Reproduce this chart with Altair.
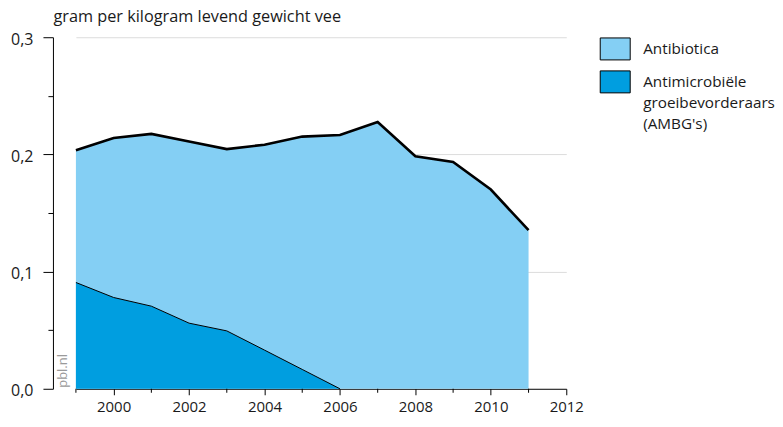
import altair as alt
import pandas as pd

# ---- data ----
jaren = [1999, 2000, 2001, 2002, 2003, 2004, 2005, 2006, 2007, 2008, 2009, 2010, 2011]
totaal = [0.2035, 0.214, 0.2175, 0.211, 0.2045, 0.2083, 0.2152, 0.2165, 0.2276,
          0.1984, 0.1935, 0.170, 0.1353]
ambg = [0.0907, 0.0779, 0.0705, 0.056, 0.0494, 0.033, 0.0165, 0.0, 0.0,
        0.0, 0.0, 0.0, 0.0]
legend_labels = ["Antibiotica", "Antimicrobiële\ngroeibevorderaars\n(AMBG's)"]
legend_colors = ["#84CFF4", "#009EE0"]
x_major = [2000, 2002, 2004, 2006, 2008, 2010, 2012]
x_minor = [1999, 2001, 2003, 2005, 2007, 2009, 2011]
y_ticks = [0.0, 0.05, 0.1, 0.15, 0.2, 0.25, 0.3]
y_title = "gram per kilogram levend gewicht vee"

FONT = "Open Sans"
TXT = "#1a1a1a"

df = pd.DataFrame({"jaar": jaren, "totaal": totaal, "ambg": ambg})
df_ambg_line = df[df["jaar"] <= 2006]

x_enc = alt.X(
    "jaar:Q",
    scale=alt.Scale(domain=[1999, 2012], nice=False, zero=False),
    axis=alt.Axis(
        values=x_major,
        format="d",
        title=None,
        grid=False,
        domainColor="#000",
        tickColor="#000",
        tickSize=6,
        labelFontSize=15,
        labelFont=FONT,
        labelColor=TXT,
        labelPadding=5,
        labelFlush=False,
        labelOverlap=False,
    ),
)

y_axis = alt.Axis(
    values=y_ticks,
    labelExpr="round(datum.value*100) % 10 == 0 ? replace(format(datum.value, '.1f'), '.', ',') : ''",
    title=y_title,
    titleAngle=0,
    titleAlign="left",
    titleBaseline="alphabetic",
    titleX=0,
    titleY=-16,
    titleFont=FONT,
    titleFontSize=16.3,
    titleFontWeight="normal",
    titleColor=TXT,
    offset=23,
    domainColor="#000",
    tickColor="#000",
    tickSize={"condition": {"test": "round(datum.value*100) % 10 == 0", "value": 10}, "value": 5},
    grid=True,
    gridColor="#dcdcdc",
    gridOpacity={"condition": {"test": "datum.value > 0.01 && round(datum.value*100) % 10 == 0", "value": 1}, "value": 0},
    labelFontSize=16,
    labelFont=FONT,
    labelColor=TXT,
    labelPadding=10,
    labelOffset=2,
    labelOverlap=False,
)
y_scale = alt.Scale(domain=[0, 0.3], nice=False)

base = alt.Chart(df)

licht = base.mark_area(color=legend_colors[0]).encode(
    x=x_enc, y=alt.Y("totaal:Q", scale=y_scale, axis=y_axis)
)
donker = base.mark_area(color=legend_colors[1]).encode(
    x="jaar:Q", y="ambg:Q"
)
lijn_ambg = alt.Chart(df_ambg_line).mark_line(color="#000", strokeWidth=1).encode(
    x="jaar:Q", y="ambg:Q"
)
lijn_tot = base.mark_line(color="#000", strokeWidth=2.6, strokeJoin="miter").encode(
    x="jaar:Q", y="totaal:Q"
)
# minor x ticks (odd years), hanging 4px below the axis line
kleine_ticks = alt.Chart(pd.DataFrame({"jaar": x_minor})).mark_tick(
    orient="vertical", size=4, thickness=1, color="#000", yOffset=2, opacity=1,
).encode(x="jaar:Q", y=alt.datum(0))

watermerk = alt.Chart(pd.DataFrame({"t": ["pbl.nl"]})).mark_text(
    angle=270, align="left", baseline="middle", fontSize=13, font=FONT,
    color="#9a9a9a", dx=1, dy=-13,
).encode(x=alt.datum(1999), y=alt.datum(0), text="t:N")

hoofd = alt.layer(licht, donker, lijn_ambg, lijn_tot, kleine_ticks, watermerk).properties(
    width=491, height=352
)

# ---- legend panel ----
leg_df = pd.DataFrame({"label": legend_labels, "kleur": legend_colors, "rij": [0, 1]})
leg_y = alt.Y("rij:O", axis=None, scale=alt.Scale(type="point", padding=0.355))
leg_sym = alt.Chart(leg_df).mark_point(
    shape="M-1,-0.733H1V0.733H-1Z", size=900, filled=True, stroke="#000",
    strokeWidth=1, opacity=1,
).encode(
    x=alt.value(15), y=leg_y,
    fill=alt.Fill("kleur:N", scale=None),
)
leg_txt = alt.Chart(leg_df).mark_text(
    align="left", baseline="top", dy=-7, fontSize=15.3, font=FONT, color=TXT,
    lineBreak="\n", lineHeight=21,
).encode(x=alt.value(43), y=leg_y, text="label:N")

legenda = alt.layer(leg_sym, leg_txt).properties(width=150, height=alt.Step(33))

chart = alt.hconcat(hoofd, legenda, spacing=14).properties(
    padding={"left": 2, "top": 0, "right": 0, "bottom": 0},
).configure_view(stroke=None).configure_concat(spacing=14)

chart.save("out.html", embed_options={"renderer": "svg", "actions": False})
